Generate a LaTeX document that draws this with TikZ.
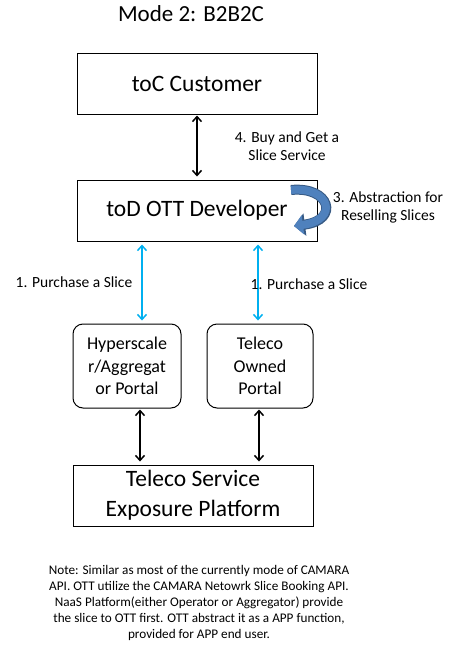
\documentclass[tikz,border=0pt]{standalone}
\usepackage{fontspec}
\setmainfont{Carlito}
\usetikzlibrary{arrows.meta,positioning}

\definecolor{slicecyan}{RGB}{0,176,240}
\definecolor{abstractblue}{RGB}{79,129,189}

\begin{document}
\begin{tikzpicture}[x=1pt, y=-1pt,
    every node/.style={font=\fontsize{15.5}{18}\selectfont, align=center, inner sep=0pt},
    bigbox/.style={draw, line width=1pt, minimum width=240pt, minimum height=61pt, font=\fontsize{23.5}{30}\selectfont},
    portal/.style={draw, line width=1pt, rounded corners=10pt, minimum height=84pt, font=\fontsize{18}{22.5}\selectfont},
    buyline/.style={black, line width=1.5pt, {Straight Barb[length=5pt,width=9pt]}-{Straight Barb[length=5pt,width=9pt]}},
    purchase/.style={buyline, draw=slicecyan}]
  \useasboundingbox (0,0) rectangle (453,651);

  \node[font=\fontsize{23}{26}\selectfont] (title) at (191,14) {Mode 2: B2B2C};

  \node[bigbox] (cust) at (197,83.5) {toC Customer};
  \node[bigbox, below=65pt of cust] (dev) {toD OTT Developer};
  \node[portal, minimum width=108pt] (hyper) at (127,366) {Hyperscale\\r/Aggregat\\or Portal};
  \node[portal, minimum width=106pt] (owned) at (260,366) {Teleco\\Owned\\Portal};
  \node[bigbox] (platform) at (193,495.5) {Teleco Service\\Exposure Platform};

  % arrows between the layers
  \draw[buyline, shorten <=1pt, shorten >=3pt] (cust) -- (dev);
  \draw[purchase, shorten <=3pt, shorten >=3pt] (dev.south -| 142,0) -- (hyper.north -| 142,0);
  \draw[purchase, shorten <=3pt, shorten >=3pt] (dev.south -| 258,0) -- (owned.north -| 258,0);
  \draw[buyline, shorten <=1pt, shorten >=3pt] (hyper.south -| 140,0) -- (platform.north -| 140,0);
  \draw[buyline, shorten <=1pt, shorten >=3pt] (owned.south -| 259,0) -- (platform.north -| 259,0);

  % curved arrow for the abstraction
  \coordinate (bendin) at (291,190);
  \coordinate (bendout) at (294,226);
  \draw[abstractblue!70!black, line width=10pt, -{Triangle[length=11pt,width=22pt]}]
    (bendin) .. controls (330,186) and (340,220) .. (bendout);
  \draw[abstractblue, line width=8pt, -{Triangle[length=9pt,width=19pt]}]
    (bendin) .. controls (330,186) and (340,220) .. (bendout);

  \node (buy) at (287,146) {4. Buy and Get a\\Slice Service};
  \node (abstr) at (388,207) {3. Abstraction for\\Reselling Slices};
  \node (buyleft) at (74,282) {1. Purchase a Slice};
  \node (buyright) at (309,284) {1. Purchase a Slice};

  \node[font=\fontsize{13.2}{16}\selectfont] (note) at (199,603) {Note: Similar as most of the currently mode of CAMARA\\API. OTT utilize the CAMARA Netowrk Slice Booking API.\\NaaS Platform(either Operator or Aggregator) provide\\the slice to OTT first. OTT abstract it as a APP function,\\provided for APP end user.};
\end{tikzpicture}
\end{document}
